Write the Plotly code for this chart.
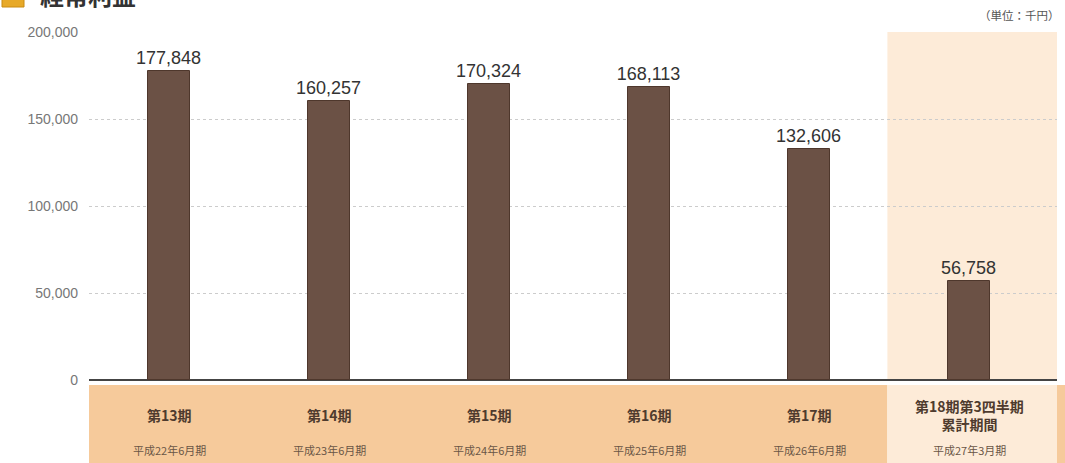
import plotly.graph_objects as go

categories = ["第13期", "第14期", "第15期", "第16期", "第17期", "第18期第3四半期<br>累計期間"]
sub_labels = ["平成22年6月期", "平成23年6月期", "平成24年6月期", "平成25年6月期", "平成26年6月期", "平成27年3月期"]
values = [177848, 160257, 170324, 168113, 132606, 56758]
tick_vals = [0, 50000, 100000, 150000, 200000]
tick_text = ["0", "50,000", "100,000", "150,000", "200,000"]

FONT = "Liberation Sans, Arial, sans-serif"
CJK = "Noto Sans CJK JP, sans-serif"

fig = go.Figure()
fig.add_trace(go.Bar(
    x=list(range(len(categories))),
    y=values,
    width=0.265,
    marker=dict(color="#6b5145", line=dict(color="#4e372c", width=1)),
    text=[f"{v:,}" for v in values],
    textposition="outside",
    constraintext="none",
    textfont=dict(family=FONT, size=18, color="#333333"),
    cliponaxis=False,
    hoverinfo="skip",
))

shapes = []
# highlight for last period
shapes.append(dict(type="rect", xref="x", yref="y", x0=4.49, x1=5.56, y0=0, y1=200000,
                   fillcolor="#fdebd8", line=dict(width=0), layer="below"))
# bottom band
shapes.append(dict(type="rect", xref="x", yref="y", x0=-0.52, x1=4.49, y0=-2900, y1=-48000,
                   fillcolor="#f6ca9b", line=dict(width=0), layer="below"))
shapes.append(dict(type="rect", xref="x", yref="y", x0=4.49, x1=5.56, y0=-2900, y1=-48000,
                   fillcolor="#fdebd8", line=dict(width=0), layer="below"))
shapes.append(dict(type="rect", xref="paper", yref="paper", x0=1.0, x1=1.02, y0=0, y1=(463-385)/431,
                   fillcolor="#f6ca9b", line=dict(width=0), layer="below"))
# title icon
shapes.append(dict(type="rect", xref="paper", yref="paper", x0=(2-89)/968, x1=(24-89)/968,
                   y0=(463-7)/431, y1=(463+12)/431,
                   fillcolor="#e7a928", line=dict(color="#c98a10", width=1)))

annotations = []
for i, (c, s) in enumerate(zip(categories, sub_labels)):
    annotations.append(dict(x=i, y=-20100, xref="x", yref="y", text=f"<b>{c}</b>",
                            showarrow=False, yanchor="middle",
                            font=dict(family=CJK, size=14, color="#4f3b2e")))
    annotations.append(dict(x=i, y=-40400, xref="x", yref="y", text=s,
                            showarrow=False, yanchor="middle",
                            font=dict(family=CJK, size=11, color="#6a5646")))
annotations.append(dict(x=(1062-89)/968, y=(463-15)/431, xref="paper", yref="paper", text="（単位：千円）",
                        xanchor="right", yanchor="middle", showarrow=False,
                        font=dict(family=CJK, size=11.5, color="#555555")))
annotations.append(dict(x=(38-89)/968, y=(463+6)/431, xref="paper", yref="paper", text="<b>経常利益</b>",
                        xanchor="left", yanchor="middle", showarrow=False,
                        font=dict(family=CJK, size=24, color="#333333")))

fig.update_layout(
    width=1065, height=463,
    margin=dict(l=89, r=8, t=32, b=0),
    paper_bgcolor="white", plot_bgcolor="rgba(0,0,0,0)",
    showlegend=False,
    bargap=0,
    shapes=shapes,
    annotations=annotations,
    xaxis=dict(range=[-0.5, 5.55], showticklabels=False, showgrid=False, zeroline=False,
               showline=False, ticks="", fixedrange=True),
    yaxis=dict(range=[-47700, 200000], tickvals=tick_vals, ticktext=tick_text,
               showgrid=True, gridcolor="#cccccc", griddash="dot", gridwidth=1,
               zeroline=True, zerolinecolor="#444444", zerolinewidth=2,
               tickfont=dict(family=FONT, size=14, color="#777777"),
               ticks="", ticklabelstandoff=10, showline=False, fixedrange=True),
)

fig.write_html("out.html", config={"displayModeBar": False},
               post_script="document.body.style.margin='0';document.body.style.overflow='hidden';")
